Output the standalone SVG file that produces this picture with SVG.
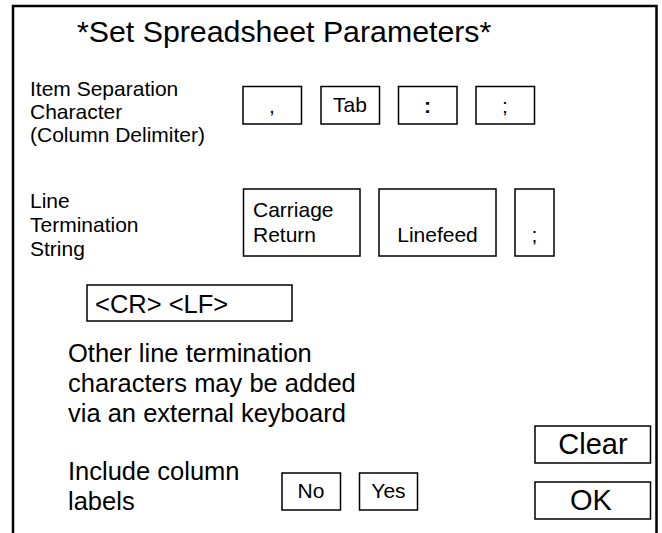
<svg xmlns="http://www.w3.org/2000/svg" width="662" height="533" viewBox="0 0 662 533">
  <style>
    text { font-family: "Liberation Sans", Arial, sans-serif; fill: #000; }
    .frame { fill: none; stroke: #000; stroke-width: 2.5; }
    .btn { fill: #fff; stroke: #000; stroke-width: 1.5; }
    .title { font-size: 30.3px; }
    .lbl { font-size: 21px; }
    .big { font-size: 25.5px; }
    .key { font-size: 21px; text-anchor: middle; }
    .act { font-size: 29px; text-anchor: middle; }
  </style>

  <!-- dialog frame, open at the bottom -->
  <path class="frame" d="M13,533 V6 H656.5 V533"/>

  <text class="title" x="77" y="42">*Set Spreadsheet Parameters*</text>

  <!-- column delimiter choice -->
  <g id="delimiter-label">
    <text class="lbl" x="30" y="96">Item Separation</text>
    <text class="lbl" x="30" y="119">Character</text>
    <text class="lbl" x="30" y="142">(Column Delimiter)</text>
  </g>
  <g id="key-comma">
    <rect class="btn" x="243" y="86.5" width="58.5" height="37.5"/>
    <text class="key" x="272" y="113">,</text>
  </g>
  <g id="key-tab">
    <rect class="btn" x="321" y="86.5" width="58.5" height="37.5"/>
    <text class="key" x="350" y="112">Tab</text>
  </g>
  <g id="key-colon">
    <rect class="btn" x="398.5" y="86.5" width="58.5" height="37.5"/>
    <text class="key" x="427.5" y="113" font-weight="bold">:</text>
  </g>
  <g id="key-semicolon">
    <rect class="btn" x="476" y="86.5" width="58.5" height="37.5"/>
    <text class="key" x="505" y="113">;</text>
  </g>

  <!-- line termination choice -->
  <g id="termination-label">
    <text class="lbl" x="30" y="208">Line</text>
    <text class="lbl" x="30" y="232">Termination</text>
    <text class="lbl" x="30" y="256">String</text>
  </g>
  <g id="key-cr">
    <rect class="btn" x="243.5" y="189" width="116.5" height="67"/>
    <text class="lbl" x="253" y="217" font-size="21.5px">Carriage</text>
    <text class="lbl" x="253" y="242" font-size="21.5px">Return</text>
  </g>
  <g id="key-lf">
    <rect class="btn" x="379" y="189" width="117" height="67"/>
    <text class="key" x="437.5" y="242" font-size="21.5px">Linefeed</text>
  </g>
  <g id="key-semicolon-2">
    <rect class="btn" x="515" y="189" width="39" height="67"/>
    <text class="key" x="534.5" y="242">;</text>
  </g>

  <g id="termination-value">
    <rect class="btn" x="87" y="285" width="205" height="36"/>
    <text class="big" x="95" y="313">&lt;CR&gt; &lt;LF&gt;</text>
  </g>

  <g id="termination-note">
    <text class="big" x="68" y="362">Other line termination</text>
    <text class="big" x="68" y="392">characters may be added</text>
    <text class="big" x="68" y="422">via an external keyboard</text>
  </g>

  <!-- column labels choice -->
  <g id="labels-label">
    <text class="big" x="68" y="480">Include column</text>
    <text class="big" x="68" y="510">labels</text>
  </g>
  <g id="key-no">
    <rect class="btn" x="282" y="473" width="58.5" height="37"/>
    <text class="key" x="311" y="498">No</text>
  </g>
  <g id="key-yes">
    <rect class="btn" x="359.5" y="473" width="58" height="37"/>
    <text class="key" x="388.5" y="498">Yes</text>
  </g>

  <!-- actions -->
  <g id="btn-clear">
    <rect class="btn" x="535" y="426" width="115.5" height="37"/>
    <text class="act" x="593" y="454">Clear</text>
  </g>
  <g id="btn-ok">
    <rect class="btn" x="535" y="482" width="115.5" height="37"/>
    <text class="act" x="591" y="510">OK</text>
  </g>
</svg>
